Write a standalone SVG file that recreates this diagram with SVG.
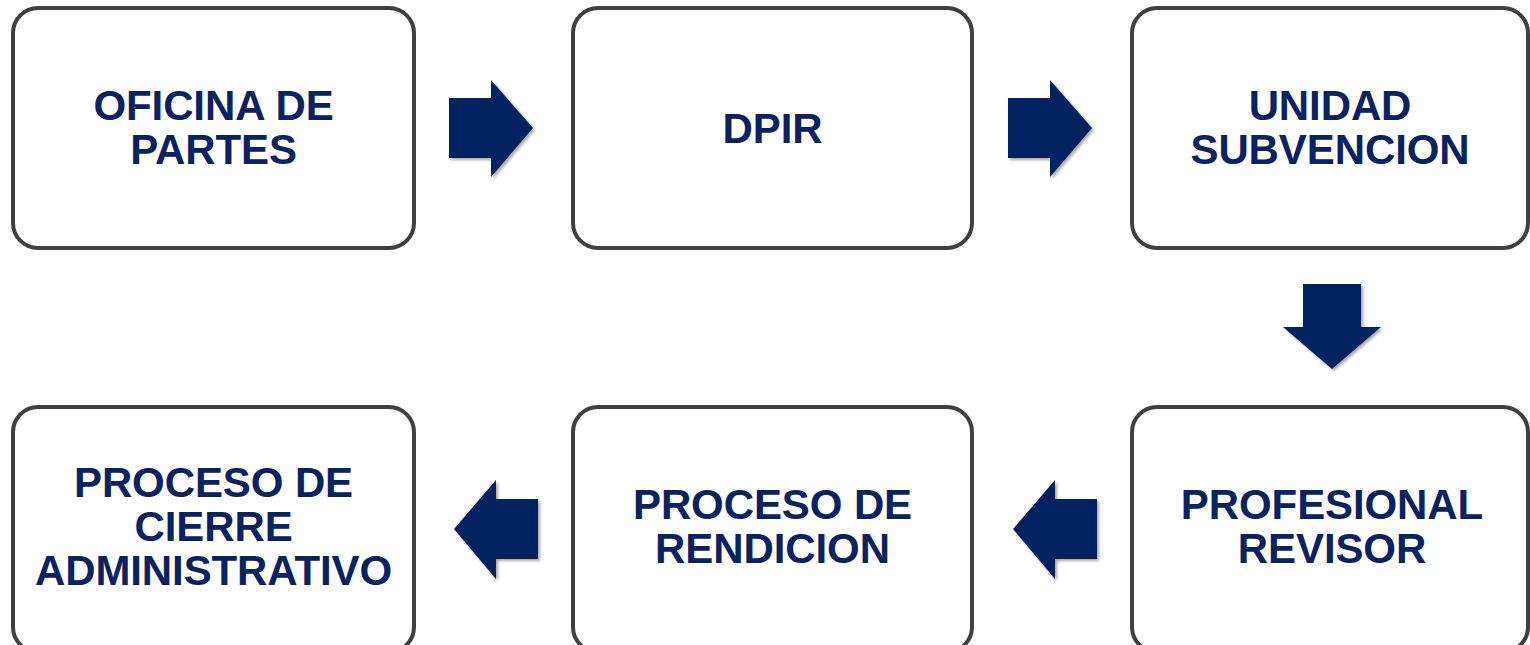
<svg xmlns="http://www.w3.org/2000/svg" width="1530" height="645" viewBox="0 0 1530 645">
<defs>
<filter id="sh" x="-20%" y="-20%" width="150%" height="150%">
<feGaussianBlur in="SourceAlpha" stdDeviation="1.5"/>
<feOffset dx="1.5" dy="2" result="b"/>
<feComponentTransfer><feFuncA type="linear" slope="0.35"/></feComponentTransfer>
<feMerge><feMergeNode/><feMergeNode in="SourceGraphic"/></feMerge>
</filter>
</defs>
<style>
.box{fill:#ffffff;stroke:#404040;stroke-width:4}
.t{font-family:"Liberation Sans",Arial,sans-serif;font-weight:bold;font-size:42px;fill:#0b2160;text-anchor:middle;letter-spacing:-0.1px}
.arr{fill:#03215f;filter:url(#sh)}
</style>
<rect width="1530" height="645" fill="#ffffff"/>
<g id="n1"><rect class="box" x="13" y="8" width="401" height="240" rx="25"/><text class="t" x="213.5" y="120">OFICINA DE</text><text class="t" x="213.5" y="164">PARTES</text></g>
<g id="n2"><rect class="box" x="573" y="8" width="399" height="240" rx="25"/><text class="t" x="772.5" y="143">DPIR</text></g>
<g id="n3"><rect class="box" x="1132" y="8" width="396" height="240" rx="25"/><text class="t" x="1330" y="120">UNIDAD</text><text class="t" x="1330" y="164">SUBVENCION</text></g>
<g id="n4"><rect class="box" x="1132" y="407" width="396" height="245" rx="25"/><text class="t" x="1332" y="519">PROFESIONAL</text><text class="t" x="1332" y="563">REVISOR</text></g>
<g id="n5"><rect class="box" x="573" y="407" width="399" height="245" rx="25"/><text class="t" x="772.5" y="519">PROCESO DE</text><text class="t" x="772.5" y="563">RENDICION</text></g>
<g id="n6"><rect class="box" x="13" y="407" width="401" height="245" rx="25"/><text class="t" x="213.5" y="497">PROCESO DE</text><text class="t" x="213.5" y="541">CIERRE</text><text class="t" x="213.5" y="585">ADMINISTRATIVO</text></g>
<g id="connectors">
<polygon class="arr" points="449,98 491,98 491,80 533,128 491,177 491,158 449,158"/>
<polygon class="arr" points="1008,98 1050,98 1050,80 1092,128 1050,177 1050,158 1008,158"/>
<polygon class="arr" points="1303,284 1361,284 1361,327 1381,327 1332,369 1283,327 1303,327"/>
<polygon class="arr" points="1097,499 1055,499 1055,480 1013,529 1055,579 1055,559 1097,559"/>
<polygon class="arr" points="538,499 496,499 496,480 454,529 496,579 496,559 538,559"/>
</g>
</svg>
